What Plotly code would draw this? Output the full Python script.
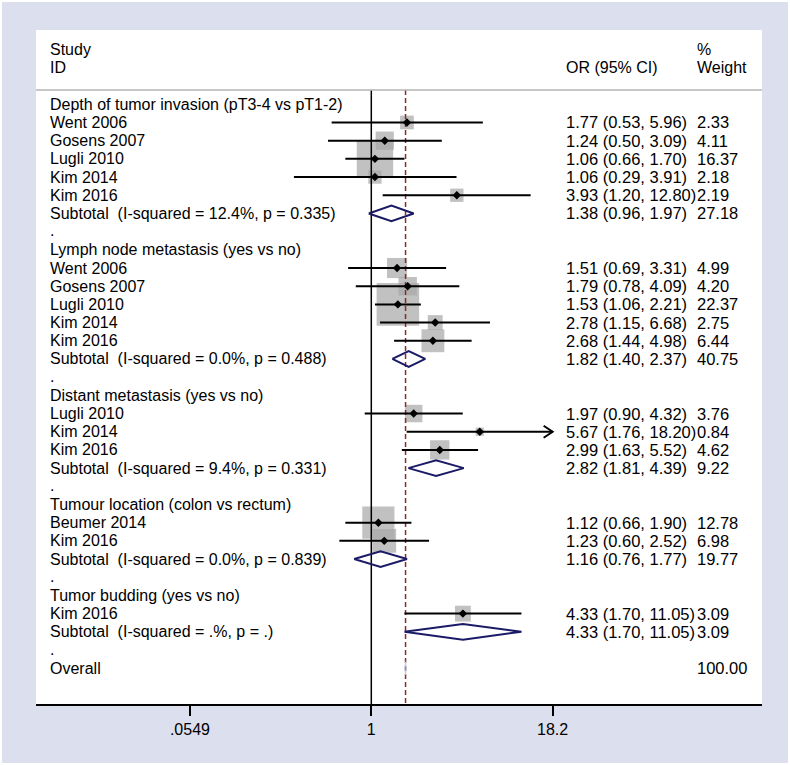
import math
import plotly.graph_objects as go

# ---------------- data ----------------
group_titles = [
    "Depth of tumor invasion (pT3-4 vs pT1-2)",
    "Lymph node metastasis (yes vs no)",
    "Distant metastasis (yes vs no)",
    "Tumour location (colon vs rectum)",
    "Tumor budding (yes vs no)",
]
study_names = [
    ["Went 2006", "Gosens 2007", "Lugli 2010", "Kim 2014", "Kim 2016"],
    ["Went 2006", "Gosens 2007", "Lugli 2010", "Kim 2014", "Kim 2016"],
    ["Lugli 2010", "Kim 2014", "Kim 2016"],
    ["Beumer 2014", "Kim 2016"],
    ["Kim 2016"],
]
study_or = [[1.77, 1.24, 1.06, 1.06, 3.93], [1.51, 1.79, 1.53, 2.78, 2.68],
            [1.97, 5.67, 2.99], [1.12, 1.23], [4.33]]
study_lo = [[0.53, 0.50, 0.66, 0.29, 1.20], [0.69, 0.78, 1.06, 1.15, 1.44],
            [0.90, 1.76, 1.63], [0.66, 0.60], [1.70]]
study_hi = [[5.96, 3.09, 1.70, 3.91, 12.80], [3.31, 4.09, 2.21, 6.68, 4.98],
            [4.32, 18.20, 5.52], [1.90, 2.52], [11.05]]
study_wt = [[2.33, 4.11, 16.37, 2.18, 2.19], [4.99, 4.20, 22.37, 2.75, 6.44],
            [3.76, 0.84, 4.62], [12.78, 6.98], [3.09]]
sub_i2 = ["12.4%", "0.0%", "9.4%", "0.0%", ".%"]
sub_p = ["0.335", "0.488", "0.331", "0.839", "."]
sub_or = [1.38, 1.82, 2.82, 1.16, 4.33]
sub_lo = [0.96, 1.40, 1.81, 0.76, 1.70]
sub_hi = [1.97, 2.37, 4.39, 1.77, 11.05]
sub_wt = [27.18, 40.75, 9.22, 19.77, 3.09]
overall_or = 1.73
overall_lo = 1.71
overall_hi = 1.75
overall_wt = 100.00
x_tickvals = [0.0549, 1, 18.2]
x_ticktext = [".0549", "1", "18.2"]

# ---------------- layout constants ----------------
W, H = 790, 765
PL, PR, PT, PB = 36, 762, 90, 704       # plot area in pixels
ROW0, ROWH = 104.3, 18.19               # pixel y of row 0 and row spacing
FONT = "Arial, 'Liberation Sans', sans-serif"
FS_L = 16.0
FS_R = 16.5
BG = "#dcdfee"
SQ = "#a6a6a6"
NAVY = "#1a1a66"
DASH = "#8c2a2a"


def px_x(px):
    return (px - PL) / (PR - PL)


def px_y(py):
    return (PB - py) / (PB - PT)


y_top = (PT - ROW0) / ROWH
y_bot = (PB - ROW0) / ROWH
xmin_log = -2.330
xmax_log = 2.715
px_per_dec = (PR - PL) / (xmax_log - xmin_log)

annotations = []


def txt(x_px, row, s, fs):
    annotations.append(dict(x=px_x(x_px), xref="paper", y=row, yref="y", text=s,
                            showarrow=False, xanchor="left", yanchor="middle",
                            font=dict(family=FONT, size=fs, color="black")))


def head(x_px, y_px, s):
    annotations.append(dict(x=px_x(x_px), xref="paper", y=px_y(y_px), yref="paper", text=s,
                            showarrow=False, xanchor="left", yanchor="middle",
                            font=dict(family=FONT, size=16, color="black")))


LX, ORX, WX = 48, 564, 695

# header
head(LX, 50, "Study")
head(LX, 68, "ID")
head(ORX, 68, "OR (95% CI)")
head(WX, 50, "%")
head(WX, 68, "Weight")

sq_x, sq_y, sq_s = [], [], []
ci_x, ci_y = [], []
arrows = []
dia_traces = []

row = 0
for g in range(len(group_titles)):
    txt(LX, row, group_titles[g], FS_L)
    row += 1
    for i, name in enumerate(study_names[g]):
        o, lo, hi, w = study_or[g][i], study_lo[g][i], study_hi[g][i], study_wt[g][i]
        txt(LX, row, name, FS_L)
        txt(ORX, row, f"{o:.2f} ({lo:.2f}, {hi:.2f})", FS_R)
        txt(WX, row, f"{w:.2f}", FS_R)
        sq_x.append(o); sq_y.append(row); sq_s.append(9.0 * math.sqrt(w))
        ci_x += [lo, min(hi, x_tickvals[-1]), None]
        ci_y += [row, row, None]
        if hi >= x_tickvals[-1]:
            arrows.append((x_tickvals[-1], row))
        row += 1
    txt(LX, row, f"Subtotal\u00a0\u00a0(I-squared = {sub_i2[g]}, p = {sub_p[g]})", FS_L)
    txt(ORX, row, f"{sub_or[g]:.2f} ({sub_lo[g]:.2f}, {sub_hi[g]:.2f})", FS_R)
    txt(WX, row, f"{sub_wt[g]:.2f}", FS_R)
    dia_traces.append((sub_lo[g], sub_or[g], sub_hi[g], row))
    row += 1
    txt(LX, row - 0.05, ".", FS_L)
    row += 1

txt(LX, row, "Overall", FS_L)
txt(WX, row, f"{overall_wt:.2f}", FS_R)
overall_row = row

fig = go.Figure()

# squares (weights)
fig.add_trace(go.Scatter(x=sq_x, y=sq_y, mode="markers",
                         marker=dict(symbol="square", size=sq_s, color=SQ, line=dict(width=0)),
                         hoverinfo="skip", showlegend=False, cliponaxis=False))

# null line and overall dashed line
fig.add_trace(go.Scatter(x=[1, 1], y=[y_top, y_bot], mode="lines",
                         line=dict(color="black", width=1.5), hoverinfo="skip", showlegend=False))
fig.add_trace(go.Scatter(x=[overall_or, overall_or], y=[y_top, y_bot], mode="lines",
                         line=dict(color=DASH, width=1.5, dash="5px,3px"),
                         hoverinfo="skip", showlegend=False))

# CI lines
fig.add_trace(go.Scatter(x=ci_x, y=ci_y, mode="lines", line=dict(color="black", width=2),
                         hoverinfo="skip", showlegend=False))
# arrow heads
k = 10 ** (9 / px_per_dec)
for (tip, r) in arrows:
    fig.add_trace(go.Scatter(x=[tip / k, tip, tip / k], y=[r - 0.33, r, r + 0.33], mode="lines",
                             line=dict(color="black", width=2), hoverinfo="skip", showlegend=False))

# point estimates
fig.add_trace(go.Scatter(x=sq_x, y=sq_y, mode="markers",
                         marker=dict(symbol="diamond", size=6.5, color="black", line=dict(width=0)),
                         hoverinfo="skip", showlegend=False))

# subtotal diamonds
hh = 0.43
for (lo, o, hi, r) in dia_traces:
    fig.add_trace(go.Scatter(x=[lo, o, hi, o, lo], y=[r, r - hh, r, r + hh, r], mode="lines",
                             line=dict(color=NAVY, width=2), hoverinfo="skip", showlegend=False))
# overall diamond (faint)
fig.add_trace(go.Scatter(x=[overall_lo, overall_or, overall_hi, overall_or, overall_lo],
                         y=[overall_row, overall_row - 0.35, overall_row, overall_row + 0.35, overall_row],
                         mode="lines", line=dict(color="#c4c8e4", width=1),
                         hoverinfo="skip", showlegend=False))

shapes = [
    dict(type="rect", xref="paper", yref="paper", x0=px_x(2), x1=px_x(788),
         y0=px_y(763), y1=px_y(2), fillcolor=BG, line=dict(width=0), layer="below"),
    dict(type="rect", xref="paper", yref="paper", x0=0, x1=1, y0=0, y1=px_y(30),
         fillcolor="white", line=dict(width=0), layer="below"),
    dict(type="line", xref="paper", yref="paper", x0=0, x1=1, y0=1, y1=1,
         line=dict(color="#b4b4b4", width=1.5)),
]

fig.update_layout(
    width=W, height=H,
    margin=dict(l=PL, r=W - PR, t=PT, b=H - PB, pad=0),
    paper_bgcolor="white", plot_bgcolor="white",
    showlegend=False,
    shapes=shapes,
    annotations=annotations,
    xaxis=dict(type="log", range=[xmin_log, xmax_log], tickvals=x_tickvals, ticktext=x_ticktext,
               showgrid=False, zeroline=False, showline=True, linecolor="black", linewidth=1.5,
               ticks="outside", ticklen=10, tickwidth=1.5, tickcolor="black",
               tickfont=dict(family=FONT, size=16, color="black"), fixedrange=True),
    yaxis=dict(range=[y_bot, y_top], visible=False, showgrid=False, zeroline=False, fixedrange=True),
)

fig.write_html("out.html", config={"displayModeBar": False},
               post_script="document.body.style.margin='0';document.body.style.padding='0';")
